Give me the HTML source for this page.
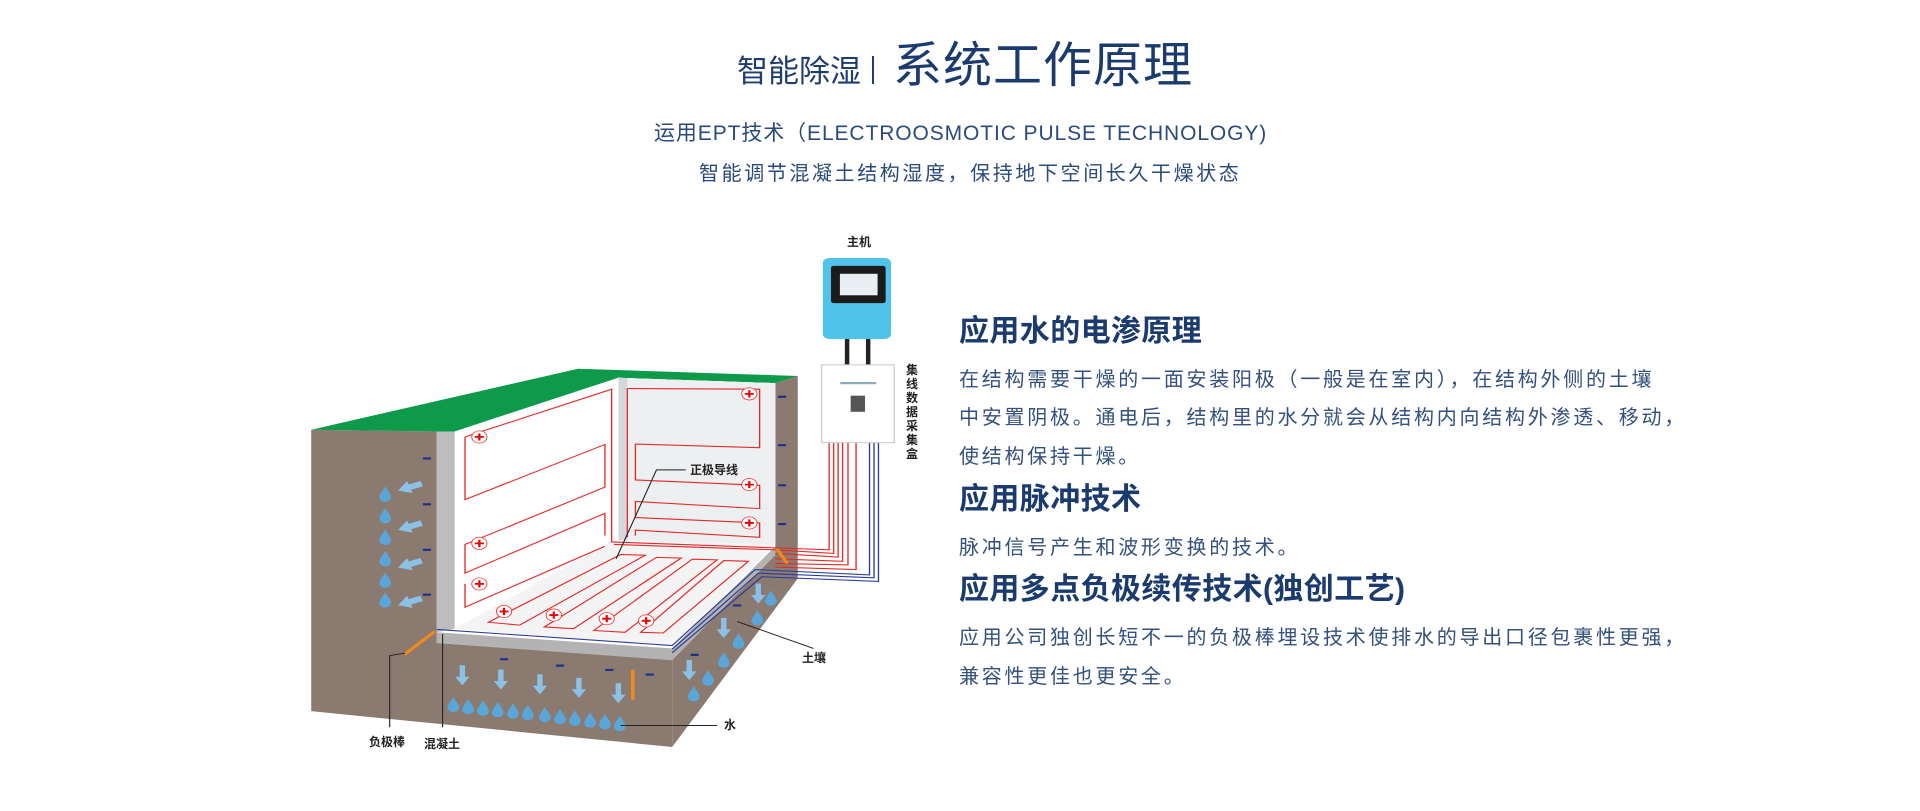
<!DOCTYPE html>
<html><head><meta charset="utf-8"><style>
html,body{margin:0;padding:0;background:#fff;}
body{width:1920px;height:811px;position:relative;overflow:hidden;font-family:"Liberation Sans","Noto Sans CJK SC",sans-serif;}
.a{position:absolute;white-space:nowrap;}
.h{color:#1b3a6e;font-weight:bold;font-size:30px;left:959px;line-height:36px;letter-spacing:0.4px;}
.b{color:#34507e;font-size:20px;letter-spacing:2.75px;left:959px;line-height:28px;}
.l{font-size:12px;font-weight:bold;color:#222;}
</style></head><body>
<div class="a" style="left:737px;top:52px;font-size:31px;color:#1f3d70;line-height:40px;">智能除湿</div>
<div class="a" style="left:872px;top:56px;width:2px;height:28px;background:#1f3d70;"></div>
<div class="a" style="left:893px;top:36px;font-size:49px;color:#1b3a6e;line-height:60px;letter-spacing:1px;">系统工作原理</div>
<div class="a" style="left:654px;top:121px;font-size:21px;color:#2a4a7c;line-height:26px;letter-spacing:0.9px;">运用EPT技术（ELECTROOSMOTIC PULSE TECHNOLOGY)</div>
<div class="a" style="left:699px;top:161px;font-size:20px;color:#2a4a7c;line-height:26px;letter-spacing:2.6px;">智能调节混凝土结构湿度，保持地下空间长久干燥状态</div>

<div class="a h" style="top:314px;">应用水的电渗原理</div>
<div class="a b" style="top:366px;">在结构需要干燥的一面安装阳极（一般是在室内），在结构外侧的土壤</div>
<div class="a b" style="top:404px;">中安置阴极。通电后，结构里的水分就会从结构内向结构外渗透、移动，</div>
<div class="a b" style="top:443px;">使结构保持干燥。</div>
<div class="a h" style="top:482px;">应用脉冲技术</div>
<div class="a b" style="top:534px;">脉冲信号产生和波形变换的技术。</div>
<div class="a h" style="top:572px;">应用多点负极续传技术(独创工艺)</div>
<div class="a b" style="top:624px;">应用公司独创长短不一的负极棒埋设技术使排水的导出口径包裹性更强，</div>
<div class="a b" style="top:663px;">兼容性更佳也更安全。</div>

<svg class="a" style="left:300px;top:220px;" width="700" height="560" viewBox="0 0 1561 1562" preserveAspectRatio="none">
<defs>
<g id="pl"><circle r="17" fill="#fff" stroke="#e33" stroke-width="2"/><path d="M-10 0H10M0 -10V10" stroke="#e00" stroke-width="5"/></g>
<path id="dr" d="M0 -22 C6 -10 13 0 13 8 A13 13 0 0 1 -13 8 C-13 0 -6 -10 0 -22Z" fill="#5aa6d8"/>
<path id="la" d="M-28 0 L0 -18 L0 -8 L28 -8 L28 8 L0 8 L0 18Z" fill="#8cc1e6"/>
<path id="da" d="M0 28 L-16 4 L-6 4 L-6 -28 L6 -28 L6 4 L16 4Z" fill="#8cc1e6"/>
</defs>
<polygon points="25,585 305,590 305,1180 830,1225 830,1470 25,1370" fill="#8a7a70"/>
<polygon points="1060,455 1110,435 1110,1000 830,1470 830,1225 1060,930" fill="#8a7a70"/>
<polygon points="25,585 620,415 1110,435 1060,455 710,440 345,590 305,590" fill="#0e9a4a"/>
<polygon points="345,590 710,440 1060,455 1060,905 830,1190 345,1140" fill="#ffffff"/>
<polygon points="710,440 1060,455 1060,905 710,893" fill="#eeeff1"/>
<polygon points="710,440 730,441 730,893 710,893" fill="#d6d7da"/>
<polygon points="345,1140 700,893 1060,905 830,1190" fill="#f4f4f5"/>
<polygon points="305,590 345,590 345,1140 305,1150" fill="#bdbdbd"/>
<polygon points="305,1150 830,1195 1060,910 1060,935 830,1228 305,1180" fill="#b3b3b3"/>
<g fill="none" stroke="#e52a2a" stroke-width="3">
<polyline points="368,605 695,472 695,898 1180,920 1180,620"/>
<polyline points="368,605 368,780 680,626 680,745 368,905 368,985 680,818 680,880"/>
<polyline points="368,1015 368,1080 680,910"/>
<polyline points="730,470 1025,472 1025,635 748,625 748,725 1025,740 1025,805 748,785 748,830 1025,845 1025,885 748,865 748,880"/>
<polyline points="730,470 730,885"/>
<polyline points="700,905 1060,920 1190,930 1190,620"/>
<polyline points="1060,930 1200,940 1200,620"/>
<polyline points="1060,945 1210,952 1210,620"/>
<polyline points="1060,958 1222,962 1222,620"/>
<polyline points="1060,968 1240,975 1240,620"/>
<polygon points="420,1122 490,1130 770,935 715,933"/>
<polygon points="545,1135 610,1140 850,943 795,941"/>
<polygon points="655,1145 725,1150 930,948 875,946"/>
<polygon points="760,1150 810,1152 1000,952 945,950"/>
</g>
<g fill="none" stroke="#2a3d9a" stroke-width="3">
<polyline points="305,1142 830,1187 1015,975 1270,990 1270,620"/>
<polyline points="830,1197 1022,985 1280,998 1280,620"/>
<polyline points="830,1207 1030,995 1290,1008 1290,620"/>
</g>
<g>
<use href="#pl" x="400" y="605"/><use href="#pl" x="1002" y="485"/><use href="#pl" x="1002" y="738"/><use href="#pl" x="1002" y="845"/>
<use href="#pl" x="400" y="902"/><use href="#pl" x="400" y="1015"/><use href="#pl" x="455" y="1092"/><use href="#pl" x="566" y="1102"/><use href="#pl" x="684" y="1112"/><use href="#pl" x="772" y="1118"/>
</g>
<g stroke="#1f2f8a" stroke-width="6">
<path d="M274 665h18M274 793h18M274 920h18M274 1045h18M1066 493h18M1066 628h18M1066 740h18M1066 848h18M446 1225h18M571 1243h18M681 1255h18M771 1268h18M871 1213h18M966 1075h18"/>
</g>
<g>
<use href="#dr" x="190" y="765"/><use href="#dr" x="190" y="825"/><use href="#dr" x="190" y="885"/><use href="#dr" x="190" y="945"/><use href="#dr" x="190" y="1005"/><use href="#dr" x="190" y="1060"/>
<use href="#dr" x="342" y="1352"/><use href="#dr" x="375" y="1358"/><use href="#dr" x="408" y="1362"/><use href="#dr" x="441" y="1366"/><use href="#dr" x="475" y="1370"/><use href="#dr" x="508" y="1374"/><use href="#dr" x="546" y="1380"/><use href="#dr" x="580" y="1386"/><use href="#dr" x="613" y="1390"/><use href="#dr" x="647" y="1395"/><use href="#dr" x="680" y="1400"/><use href="#dr" x="713" y="1405"/>
<use href="#dr" x="1050" y="1055"/><use href="#dr" x="1020" y="1110"/><use href="#dr" x="978" y="1175"/><use href="#dr" x="945" y="1228"/><use href="#dr" x="910" y="1278"/><use href="#dr" x="878" y="1322"/>
<use href="#la" x="245" y="745" transform="rotate(-20 245 745)"/><use href="#la" x="245" y="855" transform="rotate(-20 245 855)"/><use href="#la" x="245" y="960" transform="rotate(-20 245 960)"/><use href="#la" x="245" y="1065" transform="rotate(-20 245 1065)"/>
<use href="#da" x="362" y="1270"/><use href="#da" x="448" y="1282"/><use href="#da" x="535" y="1295"/><use href="#da" x="622" y="1305"/><use href="#da" x="710" y="1320"/>
<use href="#da" x="1022" y="1042"/><use href="#da" x="945" y="1138"/><use href="#da" x="868" y="1255"/>
</g>
<g stroke="#f08a1c" stroke-width="8" stroke-linecap="round">
<path d="M235 1210 L298 1150M742 1258 L742 1335M1065 920 L1085 955"/>
</g>
<g stroke="#222" stroke-width="2.5" fill="none">
<polyline points="200,1415 200,1215 235,1208"/>
<polyline points="318,1415 318,1155"/>
<polyline points="930,1410 715,1410"/>
<polyline points="1145,1195 975,1120"/>
<polyline points="860,697 795,697 705,945"/>
</g>
<rect x="1166" y="106" width="152" height="226" rx="14" fill="#4fc3ea"/>
<rect x="1184" y="128" width="122" height="104" rx="6" fill="#1b1b1b"/>
<rect x="1204" y="150" width="84" height="60" fill="#e9eef2"/>
<rect x="1215" y="332" width="10" height="72" fill="#222"/>
<rect x="1262" y="332" width="10" height="72" fill="#222"/>
<rect x="1163" y="404" width="162" height="217" fill="#fff" stroke="#ccc" stroke-width="3"/>
<rect x="1228" y="490" width="32" height="45" fill="#555"/>
<rect x="1205" y="452" width="80" height="6" fill="#8ab"/>
</svg>
<div class="a l" style="left:847px;top:233px;">主机</div>
<div class="a l" style="left:690px;top:461px;">正极导线</div>
<div class="a l" style="left:802px;top:649px;">土壤</div>
<div class="a l" style="left:724px;top:716px;">水</div>
<div class="a l" style="left:369px;top:733px;">负极棒</div>
<div class="a l" style="left:424px;top:735px;">混凝土</div>
<div class="a l" style="left:906px;top:363px;width:13px;white-space:normal;line-height:14px;">集线数据采集盒</div>
</body></html>
